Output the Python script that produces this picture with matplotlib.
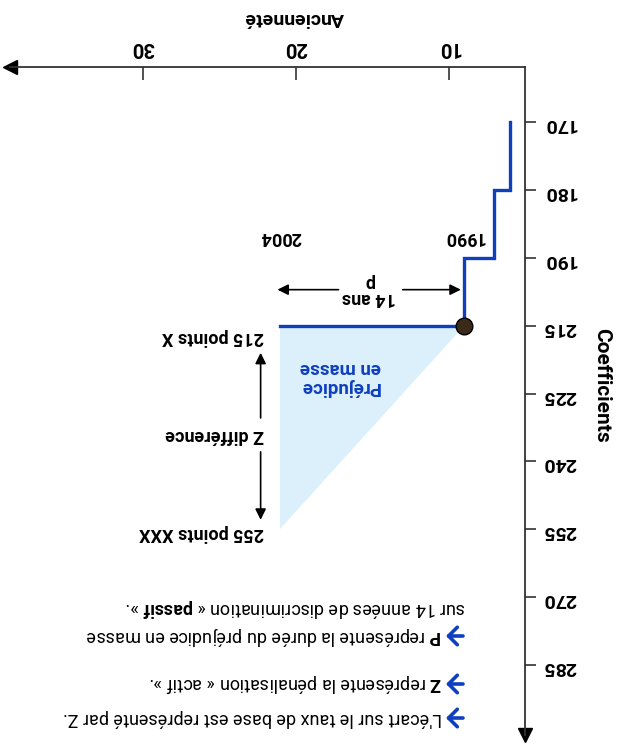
# Schéma du préjudice en masse (figure imprimée à l'envers)
import matplotlib
matplotlib.use("Agg")
import matplotlib.pyplot as plt

plt.rcParams['font.family'] = ['Roboto', 'DejaVu Sans']
plt.rcParams['mathtext.fontset'] = 'custom'
plt.rcParams['mathtext.rm'] = 'Roboto'
plt.rcParams['mathtext.bf'] = 'Roboto:bold'

# Données
coefficients = [170, 180, 190, 215, 225, 240, 255, 270, 285]
anciennete_ticks = [10, 20, 30]
step_x = [6, 6, 7, 7, 9, 9, 21]
step_coef = [170, 180, 180, 190, 190, 215, 215]
point = (9, 215)
triangle_x = [9, 21, 21]
triangle_coef = [215, 215, 255]
notes = [
    "L'écart sur le taux de base est représenté par Z.",
    r"$\mathbf{Z}$ représente la pénalisation « actif ».",
    r"$\mathbf{P}$ représente la durée du préjudice en masse",
    r"sur 14 années de discrimination « $\mathbf{passif}$ ».",
]

BLUE = '#0d3fbf'
AXC = '#333333'


def idx(c):
    return coefficients.index(c)


def main():
    fig = plt.figure(figsize=(6.22, 7.44), dpi=100)
    ax = fig.add_axes([10 / 622, 1 - 735 / 744, 515 / 622, 668 / 744])
    ax.set_xlim(38.7, 5)
    ax.set_ylim(9.03, -0.81)

    # zone triangulaire
    ax.fill(triangle_x, [idx(c) for c in triangle_coef], color='#dcf0fb', lw=0)
    ax.plot(step_x, [idx(c) for c in step_coef], color=BLUE, lw=2.4,
            solid_joinstyle='miter')
    ax.plot(point[0], idx(point[1]), 'o', ms=12, mfc='#3a2a1a', mec='black')

    rot = dict(rotation=180, fontweight='bold')
    ax.text(17.1, 3.76, "Préjudice\nen masse", color=BLUE, fontsize=13.5,
            ha='center', va='center', linespacing=1.05, **rot)
    ax.text(9, 1.70, "1990", fontsize=13, ha='center', va='center', **rot)
    ax.text(21, 1.70, "2004", fontsize=13, ha='center', va='center', **rot)
    ax.text(15.2, 2.48, "14 ans\np", fontsize=13, ha='center', va='center',
            linespacing=0.85, **rot)
    ax.text(22.05, 3.17, "215 points X", fontsize=13, ha='right', va='center', **rot)
    ax.text(22.05, 4.61, "Z différence", fontsize=13, ha='right', va='center', **rot)
    ax.text(22.05, 6.05, "255 points XXX", fontsize=13, ha='right', va='center', **rot)

    ap = dict(arrowstyle='-|>', color='black', lw=1.2, mutation_scale=16,
              shrinkA=0, shrinkB=0)
    ax.annotate('', xy=(21.2, 2.47), xytext=(17.2, 2.47), arrowprops=ap)
    ax.annotate('', xy=(9.2, 2.47), xytext=(13.0, 2.47), arrowprops=ap)
    ax.annotate('', xy=(22.3, 3.40), xytext=(22.3, 4.36), arrowprops=ap)
    ax.annotate('', xy=(22.3, 5.86), xytext=(22.3, 4.86), arrowprops=ap)

    # axes
    for s in ['left', 'bottom']:
        ax.spines[s].set_visible(False)
    for s in ['top', 'right']:
        ax.spines[s].set_color(AXC)
        ax.spines[s].set_linewidth(1.3)
    ax.plot(0, 1, '<', color='black', ms=10, transform=ax.transAxes, clip_on=False)
    ax.plot(1, 0, 'v', color='black', ms=10, transform=ax.transAxes, clip_on=False)

    ax.xaxis.tick_top()
    ax.set_xticks(anciennete_ticks)
    ax.set_xticklabels([str(t) for t in anciennete_ticks], rotation=180,
                       fontsize=14.5, fontweight='bold')
    ax.tick_params(axis='x', direction='in', length=9, width=1.2, color=AXC, pad=7)
    ax.yaxis.tick_right()
    ax.set_yticks(range(len(coefficients)))
    ax.set_yticklabels([str(c) for c in coefficients], rotation=180,
                       fontsize=14, fontweight='bold')
    ax.tick_params(axis='y', direction='out', length=8, width=1.2, color=AXC, pad=5)

    ax.xaxis.set_label_position('top')
    ax.set_xlabel("Ancienneté", rotation=180, fontsize=14, fontweight='bold')
    ax.xaxis.set_label_coords(0.552, 1.066)
    ax.yaxis.set_label_position('right')
    ax.set_ylabel("Coefficients", rotation=270, fontsize=15, fontweight='bold')
    ax.yaxis.set_label_coords(1.168, 0.524)

    # notes en bas
    note_y = [718, 684, 636, 608]
    note_x = [442, 442, 442, 466]
    for txt, px, py in zip(notes, note_x, note_y):
        fig.text(px / 622, 1 - py / 744, txt, fontsize=13, rotation=180,
                 ha='right', va='center')
    for py in note_y[:3]:
        ax.annotate('', xy=(446, 744 - py), xytext=(463, 744 - py),
                    xycoords='figure pixels', textcoords='figure pixels',
                    arrowprops=dict(arrowstyle='->,head_length=0.35,head_width=0.35',
                                    color=BLUE, lw=2.6, mutation_scale=18,
                                    shrinkA=0, shrinkB=0))

    fig.savefig("out.png", dpi=100)


if __name__ == '__main__':
    main()
